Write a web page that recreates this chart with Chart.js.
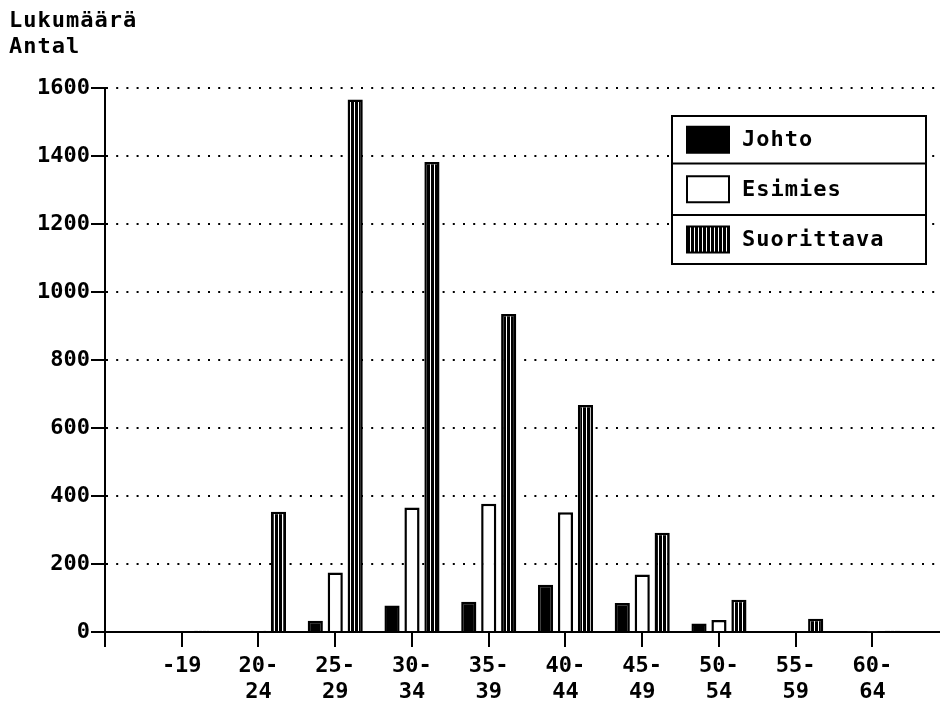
<!DOCTYPE html>
<html><head><meta charset="utf-8">
<script src="https://cdn.jsdelivr.net/npm/chart.js@4"></script>
<style>html,body{margin:0;padding:0;background:#fff;overflow:hidden}#wrap{width:940px;height:709px;position:relative}</style>
</head><body><div id="wrap"><canvas id="c" width="940" height="709"></canvas></div>
<script>
const categories = ['-19','20-24','25-29','30-34','35-39','40-44','45-49','50-54','55-59','60-64'];
const johto      = [0, 0, 33, 78, 89, 139, 85, 25, 0, 0];
const esimies    = [0, 4, 175, 366, 377, 352, 169, 35, 3, 2];
const suorittava = [4, 354, 1566, 1382, 935, 668, 292, 95, 39, 4];
const seriesNames = ['Johto', 'Esimies', 'Suorittava'];
const yTitle = ['Lukumäärä', 'Antal'];
const yMax = 1600, yStep = 200;

const FONT = '"DejaVu Sans Mono", "Liberation Mono", monospace';

function makePattern() {
  const pc = document.createElement('canvas');
  pc.width = 4; pc.height = 4;
  const g = pc.getContext('2d');
  g.fillStyle = '#000'; g.fillRect(0, 0, 4, 4);
  g.fillStyle = '#fff'; g.fillRect(2, 0, 1, 4);
  return g.createPattern(pc, 'repeat');
}

const ctx = document.getElementById('c').getContext('2d');
const stripes = makePattern();

const toPts = arr => arr.map((v, i) => ({x: i, y: v}));

const titlePlugin = {
  id: 'topTitle',
  afterDraw(chart) {
    const c = chart.ctx;
    c.save();
    c.fillStyle = '#000';
    c.font = 'bold 22px ' + FONT;
    c.letterSpacing = '1px';
    c.textAlign = 'left';
    c.textBaseline = 'alphabetic';
    c.fillText(yTitle[0], 9, 27);
    c.fillText(yTitle[1], 9, 53);
    c.restore();
  }
};

const boxLegend = {
  id: 'boxLegend',
  afterDraw(chart) {
    const c = chart.ctx;
    const L = 672, T = 116, R = 926, B = 264;
    const rows = [T, 163.5, 215, B];
    c.save();
    c.fillStyle = '#fff';
    c.fillRect(L, T, R - L, B - T);
    c.strokeStyle = '#000';
    c.lineWidth = 2;
    c.strokeRect(L, T, R - L, B - T);
    c.beginPath();
    c.moveTo(L, rows[1]); c.lineTo(R, rows[1]);
    c.moveTo(L, rows[2]); c.lineTo(R, rows[2]);
    c.stroke();
    c.font = 'bold 22px ' + FONT;
    c.letterSpacing = '1px';
    c.textAlign = 'left';
    c.textBaseline = 'middle';
    chart.data.datasets.forEach((ds, i) => {
      const cy = (rows[i] + rows[i + 1]) / 2;
      c.fillStyle = ds.backgroundColor;
      c.fillRect(687, cy - 13, 42, 26);
      c.strokeStyle = '#000';
      c.lineWidth = 2;
      c.strokeRect(687, cy - 13, 42, 26);
      c.fillStyle = '#000';
      c.fillText(ds.label, 742, cy + 1);
    });
    c.restore();
  }
};

const barCommon = {borderColor: '#000', borderWidth: 2.5, categoryPercentage: 0.78, barPercentage: 0.76, borderSkipped: 'start'};

new Chart(ctx, {
  type: 'bar',
  data: {
    datasets: [
      Object.assign({label: seriesNames[0], data: toPts(johto), backgroundColor: '#000'}, barCommon),
      Object.assign({label: seriesNames[1], data: toPts(esimies), backgroundColor: '#fff'}, barCommon),
      Object.assign({label: seriesNames[2], data: toPts(suorittava), backgroundColor: stripes}, barCommon)
    ]
  },
  options: {
    responsive: false,
    animation: false,
    devicePixelRatio: 1,
    layout: {padding: {top: 88, left: 0, right: 0, bottom: 0}},
    plugins: {legend: {display: false}, title: {display: false}, tooltip: {enabled: false}},
    scales: {
      x: {
        type: 'linear', min: -1, max: 9.88, offset: false,
        grid: {offset: false, display: true, drawOnChartArea: false, drawTicks: true, tickLength: 15, tickWidth: 2, tickColor: '#000', color: '#000', lineWidth: 2},
        border: {display: true, color: '#000', width: 2},
        afterBuildTicks(s) { s.ticks = []; for (let i = -1; i < categories.length; i++) s.ticks.push({value: i}); },
        afterFit(s) { s.height = 77; },
        ticks: {
          autoSkip: false, maxRotation: 0, minRotation: 0, padding: 6, color: '#000',
          font: {family: FONT, size: 22, weight: 'bold', lineHeight: 26 / 22},
          callback: (v) => {
            const l = categories[v];
            if (l === undefined) return '';
            const p = l.indexOf('-', 1);
            return p > 0 ? [l.slice(0, p + 1), l.slice(p + 1)] : l;
          }
        }
      },
      y: {
        type: 'linear', min: 0, max: yMax,
        ticks: {stepSize: yStep, padding: 1, color: '#000', font: {family: FONT, size: 22, weight: 'bold'}, callback: v => String(v)},
        grid: {color: '#000', lineWidth: 2, tickLength: 14, tickWidth: 2, tickColor: '#000', tickBorderDash: []},
        border: {display: true, color: '#000', width: 2, dash: [2, 8.2]},
        afterFit(s) { s.width = 105; }
      }
    }
  },
  plugins: [titlePlugin, boxLegend]
});
</script>
</body></html>
